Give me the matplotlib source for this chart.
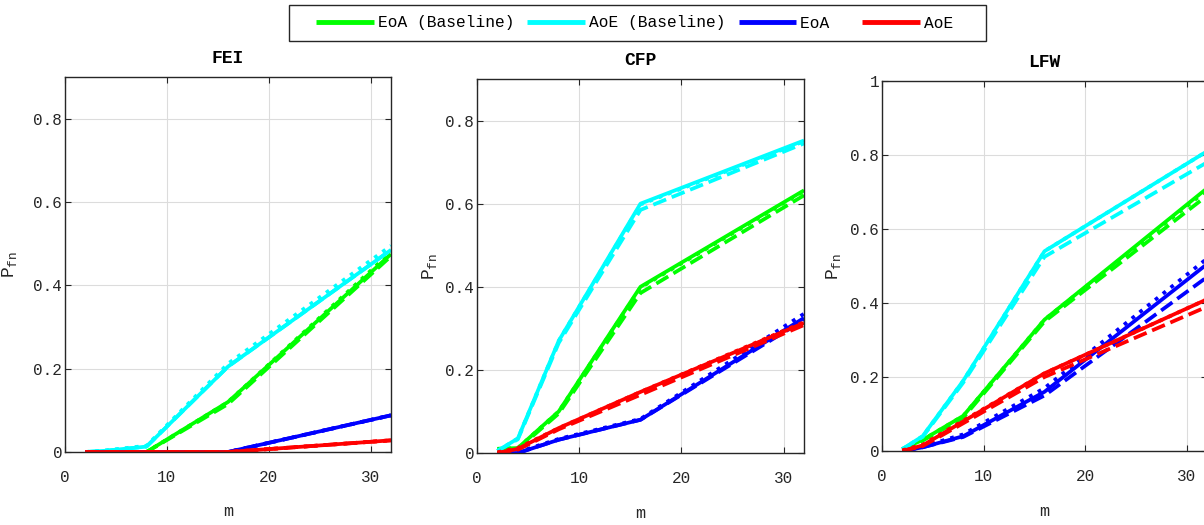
import matplotlib
matplotlib.use("Agg")
import matplotlib.pyplot as plt
from matplotlib.patches import Rectangle

plt.rcParams['font.family'] = ['Liberation Mono', 'DejaVu Sans Mono']
plt.rcParams['mathtext.fontset'] = 'custom'
plt.rcParams['mathtext.rm'] = 'Liberation Mono'
plt.rcParams['mathtext.it'] = 'Liberation Mono'

# data: m values, each method -> [solid, dashed, dotted]
m = [2, 4, 8, 16, 32]
labels = ['EoA (Baseline)', 'AoE (Baseline)', 'EoA  ', 'AoE']
colors = ['#00ff00', '#00ffff', '#0000ff', '#ff0000']

fei_eoa_base = [[0, 0, 0, 0.12, 0.475], [0, 0, 0, 0.115, 0.47], [0, 0, 0, 0.12, 0.48]]
fei_aoe_base = [[0, 0.003, 0.013, 0.205, 0.485], [0, 0.003, 0.013, 0.205, 0.485], [0, 0.004, 0.015, 0.212, 0.495]]
fei_eoa = [[0, 0, 0, 0, 0.088], [0, 0, 0, 0, 0.088], [0, 0, 0, 0, 0.088]]
fei_aoe = [[0, 0, 0, 0, 0.028], [0, 0, 0, 0, 0.028], [0, 0, 0, 0, 0.028]]

cfp_eoa_base = [[0.01, 0.012, 0.10, 0.40, 0.632], [0.008, 0.01, 0.095, 0.385, 0.62], [0.01, 0.012, 0.10, 0.398, 0.63]]
cfp_aoe_base = [[0.005, 0.035, 0.27, 0.60, 0.752], [0.005, 0.033, 0.265, 0.585, 0.745], [0.005, 0.035, 0.27, 0.598, 0.75]]
cfp_eoa = [[0, 0, 0.032, 0.08, 0.325], [0, 0, 0.032, 0.08, 0.32], [0, 0.002, 0.034, 0.082, 0.335]]
cfp_aoe = [[0, 0.01, 0.06, 0.147, 0.313], [0, 0.008, 0.057, 0.14, 0.308], [0.002, 0.012, 0.06, 0.147, 0.315]]

lfw_eoa_base = [[0.005, 0.03, 0.095, 0.355, 0.71], [0.005, 0.028, 0.09, 0.35, 0.69], [0.005, 0.03, 0.095, 0.355, 0.705]]
lfw_aoe_base = [[0.005, 0.04, 0.19, 0.54, 0.81], [0.005, 0.038, 0.185, 0.525, 0.78], [0.005, 0.04, 0.19, 0.54, 0.81]]
lfw_eoa = [[0, 0.01, 0.04, 0.16, 0.505], [0, 0.01, 0.038, 0.15, 0.47], [0, 0.012, 0.045, 0.17, 0.52]]
lfw_aoe = [[0, 0.015, 0.08, 0.21, 0.41], [0, 0.013, 0.075, 0.2, 0.39], [0.002, 0.017, 0.082, 0.21, 0.41]]

datasets = [
    ('FEI', [fei_eoa_base, fei_aoe_base, fei_eoa, fei_aoe], 0.9, [0, 0.2, 0.4, 0.6, 0.8]),
    ('CFP', [cfp_eoa_base, cfp_aoe_base, cfp_eoa, cfp_aoe], 0.9, [0, 0.2, 0.4, 0.6, 0.8]),
    ('LFW', [lfw_eoa_base, lfw_aoe_base, lfw_eoa, lfw_aoe], 1.0, [0, 0.2, 0.4, 0.6, 0.8, 1]),
]

W, H = 1204, 525
fig = plt.figure(figsize=(W / 100, H / 100), dpi=100)

# axes boxes in pixels: left, top, right, bottom
boxes = [(65, 77, 391, 452), (477, 79, 804, 453), (882, 81, 1207, 451)]
label_x = [-0.141, -0.116, -0.12]
styles = ['-', '--', ':']

for (name, series, ytop, yt), (l, t, r, b), lx in zip(datasets, boxes, label_x):
    ax = fig.add_axes([l / W, (H - b) / H, (r - l) / W, (b - t) / H])
    for k in range(4):
        for s in range(3):
            ax.plot(m, series[k][s], color=colors[k], lw=2.7, ls=styles[s],
                    label=labels[k] if s == 0 else None, solid_capstyle='butt')
    ax.set_xlim(0, 32)
    ax.set_ylim(0, ytop)
    ax.set_xticks([0, 10, 20, 30])
    ax.set_yticks(yt)
    ax.set_yticklabels(['%g' % v for v in yt])
    ax.grid(True, color='#dcdcdc', lw=0.8)
    ax.tick_params(direction='in', length=4, top=True, right=True, labelsize=11.5,
                   colors='#262626')
    ax.tick_params(axis='x', pad=13)
    ax.tick_params(axis='y', pad=2)
    for sp in ax.spines.values():
        sp.set_color('#262626')
        sp.set_linewidth(1.0)
    ax.set_title(name, fontsize=13, fontweight='bold', pad=10)
    ax.set_xlabel('m', fontsize=12, color='#262626', labelpad=14)
    ax.set_ylabel(r'$\mathrm{P}_{\mathrm{fn}}$', fontsize=13, color='#262626')
    ax.yaxis.set_label_coords(lx, 0.5)
    if name == 'FEI':
        handles, labs = ax.get_legend_handles_labels()

# legend box drawn by hand, entries placed inside
fig.patches.append(Rectangle((289 / W, (H - 41) / H), 697 / W, 36 / H,
                             transform=fig.transFigure, facecolor='white',
                             edgecolor='#262626', lw=1.0, zorder=0))
leg = fig.legend(handles, labs, ncol=4, loc='center left',
                 bbox_to_anchor=(316 / W, (H - 23) / H),
                 frameon=False, fontsize=11.7, handlelength=3.55,
                 handletextpad=0.25, columnspacing=0.8, borderpad=0, borderaxespad=0)
for line in leg.get_lines():
    line.set_linewidth(3.5)

fig.savefig('out.png', dpi=100)
